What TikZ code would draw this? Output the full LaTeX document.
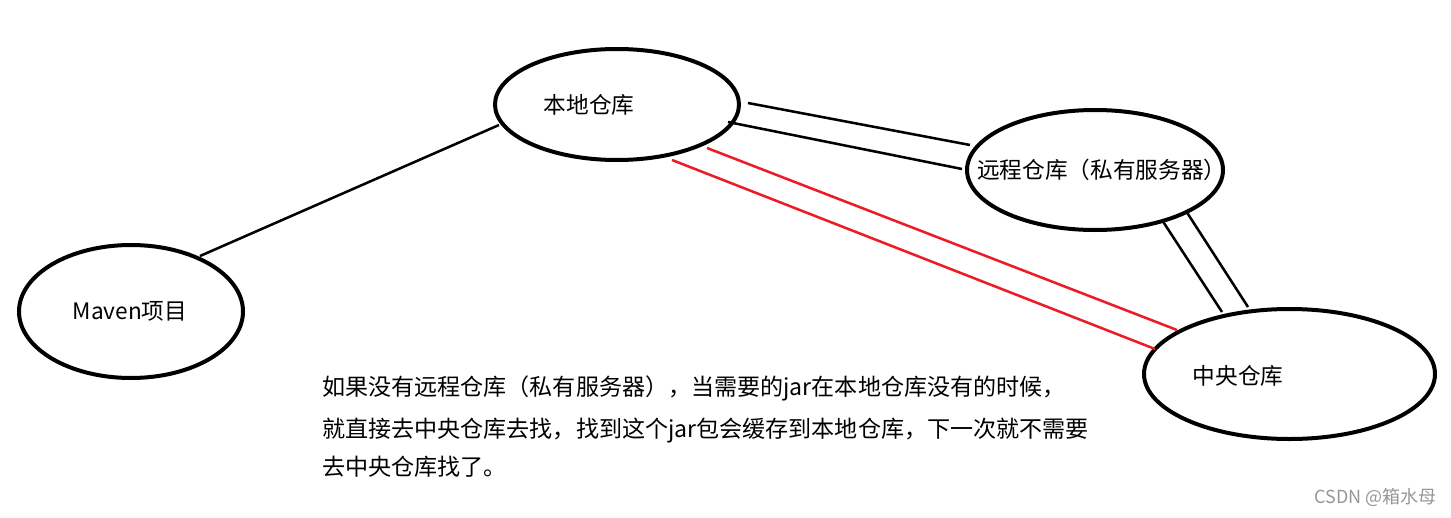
\documentclass[tikz,border=0pt]{standalone}
\usepackage{fontspec}
\setmainfont{Noto Sans CJK SC}
\usetikzlibrary{shapes.geometric}
\definecolor{pred}{RGB}{237,28,36}
\definecolor{wmgray}{RGB}{150,150,150}
\begin{document}
\begin{tikzpicture}[x=0.75pt,y=-0.75pt,
  oval/.style={ellipse, draw=black, line width=3pt, inner sep=0pt},
  lbl/.style={font=\fontsize{17}{20}\selectfont, inner sep=0pt},
  para/.style={font=\fontsize{17.3}{20}\selectfont, inner sep=0pt, anchor=west},
  link/.style={line width=1.9pt, black},
  redlink/.style={line width=1.9pt, pred}]
\useasboundingbox (0,0) rectangle (1451,517);
% ellipses
\node[oval, minimum width=183pt, minimum height=83.25pt] (local) at (617,104.5) {};
\node[oval, minimum width=192pt, minimum height=90pt] (remote) at (1095,170) {};
\node[oval, minimum width=168pt, minimum height=99.75pt] (maven) at (131,311.5) {};
\node[oval, minimum width=218.25pt, minimum height=97.5pt] (central) at (1289.5,374) {};
% labels
\node[lbl] (tlocal) at (589,105) {本地仓库};
\node[lbl, anchor=west] (tremote) at (977,170) {远程仓库（私有服务器）};
\node[lbl] (tmaven) at (130,311) {Maven项目};
\node[lbl] (tcentral) at (1238,376) {中央仓库};
% connector end points
\coordinate (m1) at (200,256);
\coordinate (l1) at (499,125);
\coordinate (l2) at (748,103);
\coordinate (r2) at (970,145);
\coordinate (l3) at (728,122);
\coordinate (r3) at (962,169);
\coordinate (l4) at (707,148);
\coordinate (c4) at (1177,330);
\coordinate (l5) at (672,160);
\coordinate (c5) at (1155,349);
\coordinate (r6) at (1162,220);
\coordinate (c6) at (1222,312);
\coordinate (r7) at (1186,211);
\coordinate (c7) at (1248,307);
% connectors
\draw[link] (m1) -- (l1);
\draw[link] (l2) -- (r2);
\draw[link] (l3) -- (r3);
\draw[redlink] (l4) -- (c4);
\draw[redlink] (l5) -- (c5);
\draw[link] (r6) -- (c6);
\draw[link] (r7) -- (c7);
% paragraph
\node[para] (p1) at (322,388) {如果没有远程仓库（私有服务器），当需要的jar在本地仓库没有的时候，};
\node[para] (p2) at (322,431) {就直接去中央仓库去找，找到这个jar包会缓存到本地仓库，下一次就不需要};
\node[para] (p3) at (322,467) {去中央仓库找了。};
% watermark
\node[font=\fontsize{13.5}{15}\selectfont, text=wmgray, inner sep=0pt, anchor=east] (wm) at (1437,497) {CSDN @箱水母};
\end{tikzpicture}
\end{document}
